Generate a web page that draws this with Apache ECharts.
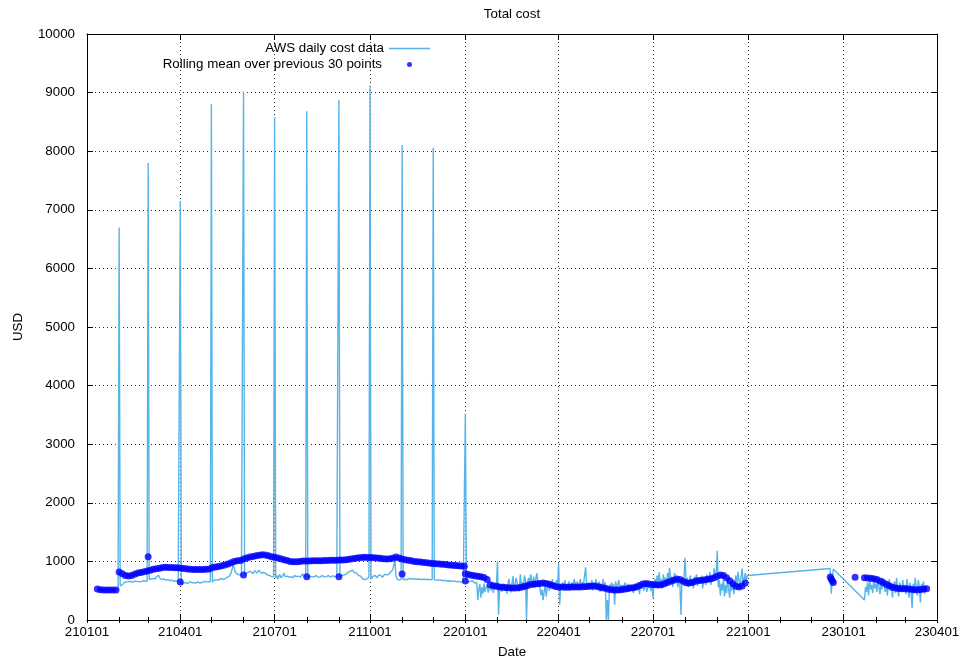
<!DOCTYPE html>
<html>
<head>
<meta charset="utf-8">
<title>Total cost</title>
<script src="https://cdn.jsdelivr.net/npm/echarts@6/dist/echarts.min.js"></script>
<style>
  html, body { margin: 0; padding: 0; background: #fff; }
  #chart { width: 961px; height: 666px; }
</style>
</head>
<body>
<div id="chart"></div>
<script>
// dates are written the way gnuplot prints them: yymmdd
const quarterTicks = ['210101', '210401', '210701', '211001', '220101', '220401',
  '220701', '221001', '230101', '230401']

// daily cost, one value per day from the start date
const costStart2021 = '210111'
const cost2021 = [
  // jan
  525, 520, 518, 515, 512, 515, 518, 520, 516, 514, 512, 515, 518, 520, 518, 515, 512, 514, 516, 518, 520,
  // feb
  6700, 580, 570, 600, 620, 640, 630, 650, 640, 655, 645, 660, 650, 640, 655, 665, 650, 660, 670, 655,
  665, 650, 660, 670, 680, 665, 670, 660,
  // mar
  7800, 690, 680, 700, 690, 710, 720, 700, 740, 770, 760, 720, 700, 690, 680, 700, 690, 680, 670, 690,
  680, 670, 660, 680, 670, 660, 650, 670, 660, 650, 640,
  // apr
  7150, 600, 610, 630, 620, 640, 630, 620, 640, 650, 630, 640, 620, 635, 645, 630, 640, 650, 640, 630,
  645, 640, 650, 660, 640, 650, 645, 655, 660, 650,
  // may
  8800, 650, 660, 680, 670, 690, 700, 680, 690, 710, 700, 690, 720, 700, 710, 730, 720, 740, 760, 800,
  870, 950, 880, 820, 790, 780, 760, 770, 750, 760, 770,
  // jun
  9020, 760, 780, 800, 790, 820, 810, 830, 800, 790, 820, 840, 810, 800, 830, 850, 820, 800, 790, 810,
  830, 800, 780, 770, 790, 760, 750, 740, 760, 740,
  // jul
  8580, 720, 760, 700, 740, 780, 720, 700, 760, 800, 740, 710, 750, 780, 730, 700, 740, 770, 720, 760,
  790, 740, 720, 750, 770, 730, 760, 790, 750, 770, 740,
  // aug
  8680, 720, 730, 745, 755, 740, 725, 735, 750, 760, 745, 730, 720, 735, 750, 760, 750, 735, 725, 740,
  755, 760, 745, 730, 740, 755, 750, 740, 730, 745, 750,
  // sep
  8870, 740, 750, 760, 745, 770, 790, 780, 800, 820, 810, 830, 845, 850, 830, 810, 790, 800, 780, 760,
  740, 750, 720, 700, 730, 690, 720, 700, 710, 730,
  // oct
  9120, 700, 720, 750, 780, 760, 740, 720, 760, 790, 770, 750, 730, 760, 780, 800, 770, 750, 780, 800,
  820, 840, 860, 880, 1020, 760, 700, 690, 680, 700, 690,
  // nov
  8100, 690, 700, 695, 705, 690, 700, 710, 695, 700, 690, 705, 700, 695, 690, 700, 705, 695, 700, 690,
  685, 700, 695, 690, 700, 695, 690, 685, 690, 695,
  // dec
  8060, 690, 685, 680, 690, 680, 675, 685, 680, 670, 675, 680, 670, 665, 675, 670, 660, 665, 670, 660,
  655, 665, 660, 650, 655, 660, 650, 645, 640, 650, 655
]

const costStart2022 = '220101'
const cost2022 = [
  // jan
  3520, 660, 670, 650, 680, 660, 640, 670, 650, 630, 660, 640, 340, 520, 610, 380, 560, 450, 620, 480,
  560, 600, 470, 540, 590, 500, 620, 460, 580, 530, 610,
  // feb
  1000, 90, 520, 600, 480, 560, 620, 500, 580, 450, 610, 700, 590, 470, 630, 750, 500, 600, 720, 640,
  570, 490, 780, 560, 650, 520, 760, 680,
  // mar
  10, 650, 720, 600, 780, 680, 620, 740, 560, 700, 800, 640, 600, 540, 420, 520, 340, 480, 600, 400,
  560, 620, 500, 660, 580, 700, 560, 640, 600, 680, 620,
  // apr
  970, 260, 600, 540, 640, 580, 680, 520, 620, 560, 660, 500, 600, 640, 560, 700, 620, 540, 660, 580,
  620, 700, 560, 640, 600, 760, 900, 620, 560, 640,
  // may
  620, 560, 680, 500, 640, 580, 700, 540, 600, 660, 480, 620, 560, 700, 520, 640, 0, 340, 0, 600,
  560, 640, 500, 620, 260, 660, 540, 600, 680, 520, 600,
  // jun
  560, 600, 520, 640, 580, 480, 620, 560, 500, 600, 540, 460, 580, 620, 520, 560, 600, 440, 580, 540,
  620, 500, 560, 600, 480, 540, 620, 580, 500, 560,
  // jul
  375, 620, 700, 560, 760, 640, 820, 600, 700, 540, 780, 660, 720, 580, 800, 680, 890, 620, 740, 560,
  700, 800, 640, 720, 560, 680, 600, 85, 700, 620, 760,
  // aug
  1060, 620, 720, 560, 680, 760, 600, 700, 540, 740, 640, 780, 580, 700, 660, 620, 760, 540, 720, 680,
  600, 780, 640, 700, 820, 600, 760, 680, 880, 720, 800,
  // sep
  1180, 560, 680, 420, 620, 500, 720, 400, 600, 460, 680, 540, 380, 620, 500, 700, 440, 640, 760, 600,
  820, 680, 560, 740, 880, 620, 700, 800, 660, 760
]

const costStartDec22 = '221219'
const costDec22 = [880, 450, 700, 870]

const costStart2023 = '230121'
const cost2023 = [
  340, 560, 480, 640, 420, 700, 520, 600, 460, 680, 540,
  620, 480, 700, 560, 440, 660, 520, 720, 600, 480, 640, 420, 560, 700, 500, 620, 380, 580, 660, 460,
  720, 540, 400, 640, 560, 480, 680, 520,
  600, 440, 700, 560, 380, 640, 500, 200, 620, 460, 720, 540, 420, 680, 560, 300, 620, 500, 660, 440,
  580, 560
]

const meanStart2021 = '210111'
const mean2021 = [
  528, 518, 512, 510, 510, 511, 513,
  820, 790, 760, 750, 760, 780, 800, 810, 825, 835,
  850, 865, 875, 885, 895, 900, 898, 895, 892, 890,
  885, 880, 870, 865, 862, 860, 860, 862, 865, 870,
  895, 905, 915, 925, 940, 955, 975, 1000, 1010, 1015,
  1040, 1060, 1075, 1085, 1095, 1105, 1115, 1110, 1095, 1080,
  1070, 1060, 1045, 1030, 1015, 1000, 995, 995, 1000, 1005,
  1005, 1008, 1010, 1012, 1012, 1013, 1015, 1015, 1018, 1020,
  1020, 1022, 1025, 1030, 1038, 1045, 1055, 1062, 1068, 1070,
  1068, 1065, 1062, 1058, 1052, 1045, 1042, 1045, 1055, 1075,
  1060, 1040, 1030, 1020, 1010, 1000, 995, 990, 980, 975,
  970, 965, 960, 955, 950, 945, 940, 935, 930, 925,
  920, 918
]

const meanStart2022 = '220101'
const mean2022 = [
  790, 775, 765, 755, 745, 740, 725, 690, 600, 585,
  575, 565, 560, 555, 550, 548, 548, 552, 560, 570,
  590, 605, 612, 618, 625, 630, 625, 610, 590, 570,
  565, 562, 560, 560, 562, 565, 565, 565, 568, 572,
  578, 580, 575, 565, 550, 540, 525, 515, 510, 512,
  518, 525, 535, 545, 550, 565, 590, 615, 625, 615,
  605, 600, 598, 600, 620, 640, 660, 680, 700, 690,
  660, 635, 630, 640, 660, 672, 680, 688, 695, 705,
  720, 745, 770, 760, 720, 670, 620, 575, 565, 580,
  630
]

const meanStartDec22 = '221219'
const meanDec22 = [735, 700, 665, 640]

const meanStart2023 = '230121'
const mean2023 = [
  722, 718, 712, 705, 690, 665, 640, 610, 585, 560, 545, 538, 535, 532, 530, 525, 518, 515, 522, 530, 535
]

// single points that sit off the mean curve
const meanOffCurve = [
  ['210301', 1080], ['210401', 650], ['210601', 770], ['210801', 740], ['210901', 740],
  ['211101', 785], ['220101', 665], ['230112', 728]
]

const DAY = 86400000
const toTime = s => Date.UTC(2000 + Number(s.slice(0, 2)), Number(s.slice(2, 4)) - 1, Number(s.slice(4, 6)))
const pad = n => String(n).padStart(2, '0')
const fmtDate = v => {
  const d = new Date(v)
  return pad(d.getUTCFullYear() % 100) + pad(d.getUTCMonth() + 1) + pad(d.getUTCDate())
}
const byDay = (start, values, step = 1) => {
  const t0 = toTime(start)
  return values.map((v, i) => [t0 + i * step * DAY, v])
}

const quarterTimes = quarterTicks.map(toTime)
const monthTimes = []
for (let y = 2021; y <= 2023; y++) {
  for (let m = 0; m < 12; m++) {
    const t = Date.UTC(y, m, 1)
    if (t <= quarterTimes[quarterTimes.length - 1]) monthTimes.push(t)
  }
}

const costData = [
  ...byDay(costStart2021, cost2021),
  ...byDay(costStart2022, cost2022),
  ...byDay(costStartDec22, costDec22),
  ...byDay(costStart2023, cost2023)
]
const meanData = [
  ...byDay(meanStart2021, mean2021, 3),
  ...byDay(meanStart2022, mean2022, 3),
  ...byDay(meanStartDec22, meanDec22),
  ...byDay(meanStart2023, mean2023, 3),
  ...meanOffCurve.map(([d, v]) => [toTime(d), v])
]

const font = { fontFamily: 'Liberation Sans', fontSize: 13.33, color: '#000' }
const border = { show: true, onZero: false, lineStyle: { color: '#000', width: 1 } }
const gridLine = { show: true, lineStyle: { color: '#333', width: 1, type: [1, 3] } }
const xMin = quarterTimes[0]
const xMax = quarterTimes[quarterTimes.length - 1]

const tickAxis = (position, values, length, line) => ({
  type: 'value', min: xMin, max: xMax, position,
  axisLine: line ? border : { show: false },
  axisTick: { show: true, inside: true, length, customValues: values, lineStyle: { color: '#000' } },
  axisLabel: { show: false },
  splitLine: { show: false }
})

const chart = echarts.init(document.getElementById('chart'))
chart.setOption({
  animation: false,
  backgroundColor: '#fff',
  title: {
    text: 'Total cost', left: 512, top: 8, textAlign: 'center', padding: 0,
    textStyle: { ...font, fontWeight: 'normal' }
  },
  legend: [
    {
      data: [{ name: 'AWS daily cost data', icon: 'rect' }], right: 531, top: 42, padding: 0,
      align: 'right', itemWidth: 41, itemHeight: 1.5, textStyle: font
    },
    {
      data: [{ name: 'Rolling mean over previous 30 points', icon: 'circle' }], right: 549, top: 58, padding: 0,
      align: 'right', itemWidth: 5, itemHeight: 5,
      textStyle: { ...font, padding: [0, 20, 0, 0] }
    }
  ],
  grid: { left: 87, right: 24, top: 34, bottom: 46, containLabel: false, outerBoundsMode: 'none' },
  xAxis: [
    {
      type: 'value', min: xMin, max: xMax, position: 'bottom',
      name: 'Date', nameLocation: 'middle', nameGap: 26, nameTextStyle: font,
      axisLine: border,
      axisTick: { show: true, inside: true, length: 6, customValues: quarterTimes, lineStyle: { color: '#000' } },
      axisLabel: { customValues: quarterTimes, formatter: fmtDate, margin: 6, ...font },
      splitLine: gridLine
    },
    tickAxis('bottom', monthTimes, 3, false),
    tickAxis('top', quarterTimes, 6, true),
    tickAxis('top', monthTimes, 3, false)
  ],
  yAxis: [
    {
      type: 'value', min: 0, max: 10000, interval: 1000, position: 'left',
      name: 'USD', nameLocation: 'middle', nameGap: 62, nameRotate: 90, nameTextStyle: font,
      axisLine: border,
      axisTick: { show: true, inside: true, length: 6, lineStyle: { color: '#000' } },
      axisLabel: { margin: 12, formatter: v => String(v), ...font },
      splitLine: gridLine
    },
    {
      type: 'value', min: 0, max: 10000, interval: 1000, position: 'right',
      axisLine: border,
      axisTick: { show: true, inside: true, length: 6, lineStyle: { color: '#000' } },
      axisLabel: { show: false },
      splitLine: { show: false }
    }
  ],
  series: [
    {
      name: 'AWS daily cost data', type: 'line', data: costData,
      showSymbol: false, symbol: 'none', z: 2,
      color: '#56B4E9', lineStyle: { color: '#56B4E9', width: 1.4 }
    },
    {
      name: 'Rolling mean over previous 30 points', type: 'scatter', data: meanData,
      symbol: 'circle', symbolSize: 7, z: 3,
      color: '#0000FF', itemStyle: { color: '#0000FF' }
    }
  ]
})
</script>
</body>
</html>
